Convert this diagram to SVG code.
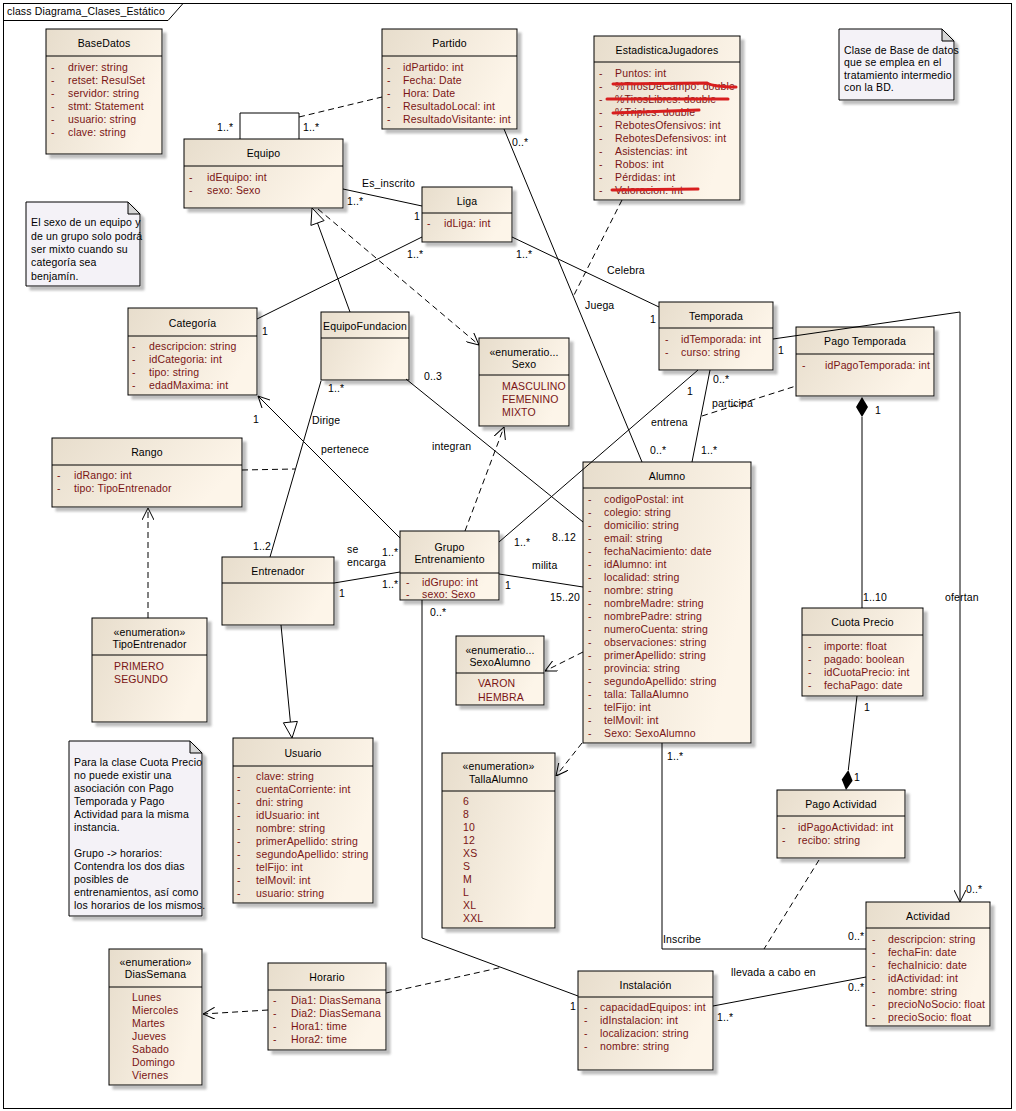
<svg xmlns="http://www.w3.org/2000/svg" width="1016" height="1111" viewBox="0 0 1016 1111">
<defs>
<linearGradient id="g" x1="0" y1="0" x2="1" y2="0.35"><stop offset="0" stop-color="#e7ddcc"/><stop offset="1" stop-color="#fdf5e9"/></linearGradient>
<filter id="ds" x="-10%" y="-10%" width="130%" height="130%"><feDropShadow dx="4" dy="4" stdDeviation="1" flood-color="#8a8a8a" flood-opacity="0.55"/></filter>
<marker id="op" viewBox="0 0 12 12" refX="12" refY="6" markerWidth="12" markerHeight="12" markerUnits="userSpaceOnUse" orient="auto"><path d="M0,0 L12,6 L0,12" fill="none" stroke="#000" stroke-width="1"/></marker>
<style>
text{font-family:"Liberation Sans",Arial,sans-serif;font-size:10.5px;letter-spacing:0.15px}
.b{fill:url(#g);stroke:#000;stroke-width:1;filter:url(#ds)}
.dv{stroke:#000;stroke-width:1}
.h{text-anchor:middle;fill:#000}
.a{fill:#7a1414}
.l{fill:#000}
.n{fill:#f4f2f7;stroke:#000;stroke-width:1;filter:url(#ds)}
.f{fill:#d6d6d6;stroke:#000;stroke-width:1}
.c{fill:none;stroke:#000;stroke-width:1}
.d{fill:none;stroke:#000;stroke-width:1;stroke-dasharray:6 4}
.s{fill:none;stroke:#d81e1e;stroke-width:3;stroke-linecap:round}
</style>
</defs>
<rect x="0" y="0" width="1016" height="1111" fill="#fff"/>
<g id="frame">
<rect x="3.5" y="3.5" width="1008" height="1105" fill="none" stroke="#000"/>
<path d="M3.5,20.5 H168 L183,3.5" fill="none" stroke="#000"/>
<text x="7" y="15" class="l">class Diagrama_Clases_Estático</text>
</g>

<g id="BaseDatos">
<rect class="b" x="46" y="29" width="116" height="125"/><line class="dv" x1="46" y1="56" x2="162" y2="56"/>
<text class="h" x="104" y="47">BaseDatos</text>
<text class="a" x="51" y="70.5">-</text><text class="a" x="68" y="70.5">driver: string</text>
<text class="a" x="51" y="83.5">-</text><text class="a" x="68" y="83.5">retset: ResulSet</text>
<text class="a" x="51" y="96.5">-</text><text class="a" x="68" y="96.5">servidor: string</text>
<text class="a" x="51" y="109.5">-</text><text class="a" x="68" y="109.5">stmt: Statement</text>
<text class="a" x="51" y="122.5">-</text><text class="a" x="68" y="122.5">usuario: string</text>
<text class="a" x="51" y="135.5">-</text><text class="a" x="68" y="135.5">clave: string</text>
</g>

<g id="Partido">
<rect class="b" x="382" y="29" width="135" height="100"/><line class="dv" x1="382" y1="56" x2="517" y2="56"/>
<text class="h" x="449.5" y="47">Partido</text>
<text class="a" x="387" y="70.5">-</text><text class="a" x="403" y="70.5">idPartido: int</text>
<text class="a" x="387" y="83.5">-</text><text class="a" x="403" y="83.5">Fecha: Date</text>
<text class="a" x="387" y="96.5">-</text><text class="a" x="403" y="96.5">Hora: Date</text>
<text class="a" x="387" y="109.5">-</text><text class="a" x="403" y="109.5">ResultadoLocal: int</text>
<text class="a" x="387" y="122.5">-</text><text class="a" x="403" y="122.5">ResultadoVisitante: int</text>
</g>

<g id="EstadisticaJugadores">
<rect class="b" x="594" y="36" width="146" height="164"/><line class="dv" x1="594" y1="62" x2="740" y2="62"/>
<text class="h" x="667" y="53.5">EstadisticaJugadores</text>
<text class="a" x="599" y="76.5">-</text><text class="a" x="615" y="76.5">Puntos: int</text>
<text class="a" x="599" y="89.5">-</text><text class="a" x="615" y="89.5">%TirosDeCampo: double</text>
<text class="a" x="599" y="102.5">-</text><text class="a" x="615" y="102.5">%TirosLibres: double</text>
<text class="a" x="599" y="115.5">-</text><text class="a" x="615" y="115.5">%Triples: double</text>
<text class="a" x="599" y="128.5">-</text><text class="a" x="615" y="128.5">RebotesOfensivos: int</text>
<text class="a" x="599" y="141.5">-</text><text class="a" x="615" y="141.5">RebotesDefensivos: int</text>
<text class="a" x="599" y="154.5">-</text><text class="a" x="615" y="154.5">Asistencias: int</text>
<text class="a" x="599" y="167.5">-</text><text class="a" x="615" y="167.5">Robos: int</text>
<text class="a" x="599" y="180.5">-</text><text class="a" x="615" y="180.5">Pérdidas: int</text>
<text class="a" x="599" y="193.5">-</text><text class="a" x="615" y="193.5">Valoracion: int</text>
<path class="s" d="M613,84 L707,83 Q714,87 736,87"/>
<path class="s" d="M607,99 L728,99"/>
<path class="s" d="M613,113 L699,110"/>
<path class="s" d="M612,190 L698,189"/>
</g>

<g id="NotaBD">
<path class="n" d="M839,29 H942 L954,41 V100 H839 Z"/><path class="f" d="M942,29 V41 H954 Z"/>
<text class="l" x="844" y="53.5">Clase de Base de datos</text>
<text class="l" x="844" y="65.5">que se emplea en el</text>
<text class="l" x="844" y="78.5">tratamiento intermedio</text>
<text class="l" x="844" y="90.5">con la BD.</text>
</g>

<g id="Equipo">
<rect class="b" x="184" y="139" width="159" height="69"/><line class="dv" x1="184" y1="166" x2="343" y2="166"/>
<text class="h" x="263.5" y="157">Equipo</text>
<text class="a" x="189" y="180.5">-</text><text class="a" x="207" y="180.5">idEquipo: int</text>
<text class="a" x="189" y="193.5">-</text><text class="a" x="207" y="193.5">sexo: Sexo</text>
</g>

<g id="Liga">
<rect class="b" x="422" y="187" width="90" height="55"/><line class="dv" x1="422" y1="213" x2="512" y2="213"/>
<text class="h" x="467" y="204.5">Liga</text>
<text class="a" x="427" y="227">-</text><text class="a" x="444" y="227">idLiga: int</text>
</g>

<g id="NotaSexo">
<path class="n" d="M26,202 H128 L140,214 V286 H26 Z"/><path class="f" d="M128,202 V214 H140 Z"/>
<text class="l" x="31" y="225.5">El sexo de un equipo y</text>
<text class="l" x="31" y="239.5">de un grupo solo podrá</text>
<text class="l" x="31" y="252.5">ser mixto cuando su</text>
<text class="l" x="31" y="265.5">categoría sea</text>
<text class="l" x="31" y="279.5">benjamín.</text>
</g>

<g id="Categoria">
<rect class="b" x="128" y="308" width="129" height="87"/><line class="dv" x1="128" y1="336" x2="257" y2="336"/>
<text class="h" x="192.5" y="326.5">Categoría</text>
<text class="a" x="132" y="350">-</text><text class="a" x="149" y="350">descripcion: string</text>
<text class="a" x="132" y="363">-</text><text class="a" x="149" y="363">idCategoria: int</text>
<text class="a" x="132" y="376">-</text><text class="a" x="149" y="376">tipo: string</text>
<text class="a" x="132" y="389">-</text><text class="a" x="149" y="389">edadMaxima: int</text>
</g>

<g id="EquipoFundacion">
<rect class="b" x="321" y="312" width="88" height="68"/><line class="dv" x1="321" y1="338" x2="409" y2="338"/>
<text class="h" x="365" y="329.5">EquipoFundacion</text>
</g>

<g id="Temporada">
<rect class="b" x="659" y="302" width="114" height="68"/><line class="dv" x1="659" y1="328" x2="773" y2="328"/>
<text class="h" x="716" y="319.5">Temporada</text>
<text class="a" x="665" y="342.5">-</text><text class="a" x="681" y="342.5">idTemporada: int</text>
<text class="a" x="665" y="355.5">-</text><text class="a" x="681" y="355.5">curso: string</text>
</g>

<g id="PagoTemporada">
<rect class="b" x="796" y="327" width="138" height="69"/><line class="dv" x1="796" y1="354" x2="934" y2="354"/>
<text class="h" x="865" y="345">Pago Temporada</text>
<text class="a" x="802" y="368.5">-</text><text class="a" x="825" y="368.5">idPagoTemporada: int</text>
</g>

<g id="Sexo">
<rect class="b" x="479" y="338" width="90" height="88"/><line class="dv" x1="479" y1="375" x2="569" y2="375"/>
<text class="h" x="524" y="355.5">«enumeratio...</text>
<text class="h" x="524" y="367.5">Sexo</text>
<text class="a" x="502" y="389.5">MASCULINO</text>
<text class="a" x="502" y="402.5">FEMENINO</text>
<text class="a" x="502" y="415.5">MIXTO</text>
</g>

<g id="Rango">
<rect class="b" x="52" y="438" width="190" height="69"/><line class="dv" x1="52" y1="465" x2="242" y2="465"/>
<text class="h" x="147" y="456">Rango</text>
<text class="a" x="57" y="479">-</text><text class="a" x="74" y="479">idRango: int</text>
<text class="a" x="57" y="492">-</text><text class="a" x="74" y="492">tipo: TipoEntrenador</text>
</g>

<g id="Alumno">
<rect class="b" x="583" y="462" width="168" height="281"/><line class="dv" x1="583" y1="488" x2="751" y2="488"/>
<text class="h" x="667" y="479.5">Alumno</text>
<text class="a" x="588" y="502.5">-</text><text class="a" x="604" y="502.5">codigoPostal: int</text>
<text class="a" x="588" y="515.5">-</text><text class="a" x="604" y="515.5">colegio: string</text>
<text class="a" x="588" y="528.5">-</text><text class="a" x="604" y="528.5">domicilio: string</text>
<text class="a" x="588" y="541.5">-</text><text class="a" x="604" y="541.5">email: string</text>
<text class="a" x="588" y="554.5">-</text><text class="a" x="604" y="554.5">fechaNacimiento: date</text>
<text class="a" x="588" y="567.5">-</text><text class="a" x="604" y="567.5">idAlumno: int</text>
<text class="a" x="588" y="580.5">-</text><text class="a" x="604" y="580.5">localidad: string</text>
<text class="a" x="588" y="593.5">-</text><text class="a" x="604" y="593.5">nombre: string</text>
<text class="a" x="588" y="606.5">-</text><text class="a" x="604" y="606.5">nombreMadre: string</text>
<text class="a" x="588" y="619.5">-</text><text class="a" x="604" y="619.5">nombrePadre: string</text>
<text class="a" x="588" y="632.5">-</text><text class="a" x="604" y="632.5">numeroCuenta: string</text>
<text class="a" x="588" y="645.5">-</text><text class="a" x="604" y="645.5">observaciones: string</text>
<text class="a" x="588" y="658.5">-</text><text class="a" x="604" y="658.5">primerApellido: string</text>
<text class="a" x="588" y="671.5">-</text><text class="a" x="604" y="671.5">provincia: string</text>
<text class="a" x="588" y="684.5">-</text><text class="a" x="604" y="684.5">segundoApellido: string</text>
<text class="a" x="588" y="697.5">-</text><text class="a" x="604" y="697.5">talla: TallaAlumno</text>
<text class="a" x="588" y="710.5">-</text><text class="a" x="604" y="710.5">telFijo: int</text>
<text class="a" x="588" y="723.5">-</text><text class="a" x="604" y="723.5">telMovil: int</text>
<text class="a" x="588" y="736.5">-</text><text class="a" x="604" y="736.5">Sexo: SexoAlumno</text>
</g>

<g id="GrupoEntrenamiento">
<rect class="b" x="400" y="531" width="99" height="69"/><line class="dv" x1="400" y1="573" x2="499" y2="573"/>
<text class="h" x="449.5" y="550.5">Grupo</text>
<text class="h" x="449.5" y="562.5">Entrenamiento</text>
<text class="a" x="406" y="585.5">-</text><text class="a" x="422" y="585.5">idGrupo: int</text>
<text class="a" x="406" y="597.5">-</text><text class="a" x="422" y="597.5">sexo: Sexo</text>
</g>

<g id="Entrenador">
<rect class="b" x="222" y="557" width="112" height="68"/><line class="dv" x1="222" y1="583" x2="334" y2="583"/>
<text class="h" x="278" y="574.5">Entrenador</text>
</g>

<g id="TipoEntrenador">
<rect class="b" x="92" y="618" width="115" height="104"/><line class="dv" x1="92" y1="655" x2="207" y2="655"/>
<text class="h" x="149.5" y="635.5">«enumeration»</text>
<text class="h" x="149.5" y="647.5">TipoEntrenador</text>
<text class="a" x="114" y="669.5">PRIMERO</text>
<text class="a" x="114" y="682.5">SEGUNDO</text>
</g>

<g id="SexoAlumno">
<rect class="b" x="456" y="636" width="88" height="69"/><line class="dv" x1="456" y1="673" x2="544" y2="673"/>
<text class="h" x="500" y="653.5">«enumeratio...</text>
<text class="h" x="500" y="665.5">SexoAlumno</text>
<text class="a" x="478" y="686.5">VARON</text>
<text class="a" x="478" y="700.5">HEMBRA</text>
</g>

<g id="CuotaPrecio">
<rect class="b" x="802" y="608" width="121" height="88"/><line class="dv" x1="802" y1="635" x2="923" y2="635"/>
<text class="h" x="862.5" y="626">Cuota Precio</text>
<text class="a" x="808" y="649.5">-</text><text class="a" x="824" y="649.5">importe: float</text>
<text class="a" x="808" y="662.5">-</text><text class="a" x="824" y="662.5">pagado: boolean</text>
<text class="a" x="808" y="675.5">-</text><text class="a" x="824" y="675.5">idCuotaPrecio: int</text>
<text class="a" x="808" y="688.5">-</text><text class="a" x="824" y="688.5">fechaPago: date</text>
</g>

<g id="Usuario">
<rect class="b" x="233" y="738" width="140" height="165"/><line class="dv" x1="233" y1="766" x2="373" y2="766"/>
<text class="h" x="303" y="756.5">Usuario</text>
<text class="a" x="237" y="779.5">-</text><text class="a" x="256" y="779.5">clave: string</text>
<text class="a" x="237" y="792.5">-</text><text class="a" x="256" y="792.5">cuentaCorriente: int</text>
<text class="a" x="237" y="805.5">-</text><text class="a" x="256" y="805.5">dni: string</text>
<text class="a" x="237" y="818.5">-</text><text class="a" x="256" y="818.5">idUsuario: int</text>
<text class="a" x="237" y="831.5">-</text><text class="a" x="256" y="831.5">nombre: string</text>
<text class="a" x="237" y="844.5">-</text><text class="a" x="256" y="844.5">primerApellido: string</text>
<text class="a" x="237" y="857.5">-</text><text class="a" x="256" y="857.5">segundoApellido: string</text>
<text class="a" x="237" y="870.5">-</text><text class="a" x="256" y="870.5">telFijo: int</text>
<text class="a" x="237" y="883.5">-</text><text class="a" x="256" y="883.5">telMovil: int</text>
<text class="a" x="237" y="896.5">-</text><text class="a" x="256" y="896.5">usuario: string</text>
</g>

<g id="NotaCuota">
<path class="n" d="M69,741 H190 L202,753 V916 H69 Z"/><path class="f" d="M190,741 V753 H202 Z"/>
<text class="l" x="74" y="765.5">Para la clase Cuota Precio</text>
<text class="l" x="74" y="778.5">no puede existir una</text>
<text class="l" x="74" y="791.5">asociación con Pago</text>
<text class="l" x="74" y="804.5">Temporada y Pago</text>
<text class="l" x="74" y="817.5">Actividad para la misma</text>
<text class="l" x="74" y="830.5">instancia.</text>
<text class="l" x="74" y="856.5">Grupo -&gt; horarios:</text>
<text class="l" x="74" y="869.5">Contendra los dos dias</text>
<text class="l" x="74" y="882.5">posibles de</text>
<text class="l" x="74" y="895.5">entrenamientos, así como</text>
<text class="l" x="74" y="908.5">los horarios de los mismos.</text>
</g>

<g id="TallaAlumno">
<rect class="b" x="442" y="753" width="113" height="175"/><line class="dv" x1="442" y1="791" x2="555" y2="791"/>
<text class="h" x="498.5" y="769.5">«enumeration»</text>
<text class="h" x="498.5" y="782.5">TallaAlumno</text>
<text class="a" x="463" y="804.5">6</text>
<text class="a" x="463" y="817.5">8</text>
<text class="a" x="463" y="830.5">10</text>
<text class="a" x="463" y="843.5">12</text>
<text class="a" x="463" y="856.5">XS</text>
<text class="a" x="463" y="869.5">S</text>
<text class="a" x="463" y="882.5">M</text>
<text class="a" x="463" y="895.5">L</text>
<text class="a" x="463" y="908.5">XL</text>
<text class="a" x="463" y="921.5">XXL</text>
</g>

<g id="PagoActividad">
<rect class="b" x="777" y="790" width="128" height="68"/><line class="dv" x1="777" y1="816" x2="905" y2="816"/>
<text class="h" x="841" y="807.5">Pago Actividad</text>
<text class="a" x="782" y="830.5">-</text><text class="a" x="798" y="830.5">idPagoActividad: int</text>
<text class="a" x="782" y="843.5">-</text><text class="a" x="798" y="843.5">recibo: string</text>
</g>

<g id="Actividad">
<rect class="b" x="866" y="902" width="124" height="124"/><line class="dv" x1="866" y1="928" x2="990" y2="928"/>
<text class="h" x="928" y="919.5">Actividad</text>
<text class="a" x="872" y="942.5">-</text><text class="a" x="888" y="942.5">descripcion: string</text>
<text class="a" x="872" y="955.5">-</text><text class="a" x="888" y="955.5">fechaFin: date</text>
<text class="a" x="872" y="968.5">-</text><text class="a" x="888" y="968.5">fechaInicio: date</text>
<text class="a" x="872" y="981.5">-</text><text class="a" x="888" y="981.5">idActividad: int</text>
<text class="a" x="872" y="994.5">-</text><text class="a" x="888" y="994.5">nombre: string</text>
<text class="a" x="872" y="1007.5">-</text><text class="a" x="888" y="1007.5">precioNoSocio: float</text>
<text class="a" x="872" y="1020.5">-</text><text class="a" x="888" y="1020.5">precioSocio: float</text>
</g>

<g id="DiasSemana">
<rect class="b" x="109" y="949" width="93" height="136"/><line class="dv" x1="109" y1="987" x2="202" y2="987"/>
<text class="h" x="155.5" y="965.5">«enumeration»</text>
<text class="h" x="155.5" y="977.5">DiasSemana</text>
<text class="a" x="132" y="1000.5">Lunes</text>
<text class="a" x="132" y="1013.5">Miercoles</text>
<text class="a" x="132" y="1026.5">Martes</text>
<text class="a" x="132" y="1039.5">Jueves</text>
<text class="a" x="132" y="1052.5">Sabado</text>
<text class="a" x="132" y="1065.5">Domingo</text>
<text class="a" x="132" y="1078.5">Viernes</text>
</g>

<g id="Horario">
<rect class="b" x="268" y="963" width="118" height="87"/><line class="dv" x1="268" y1="990" x2="386" y2="990"/>
<text class="h" x="327" y="981">Horario</text>
<text class="a" x="273" y="1003.5">-</text><text class="a" x="291" y="1003.5">Dia1: DiasSemana</text>
<text class="a" x="273" y="1016.5">-</text><text class="a" x="291" y="1016.5">Dia2: DiasSemana</text>
<text class="a" x="273" y="1029.5">-</text><text class="a" x="291" y="1029.5">Hora1: time</text>
<text class="a" x="273" y="1042.5">-</text><text class="a" x="291" y="1042.5">Hora2: time</text>
</g>

<g id="Instalacion">
<rect class="b" x="578" y="971" width="135" height="99"/><line class="dv" x1="578" y1="997" x2="713" y2="997"/>
<text class="h" x="645.5" y="988.5">Instalación</text>
<text class="a" x="584" y="1010.5">-</text><text class="a" x="600" y="1010.5">capacidadEquipos: int</text>
<text class="a" x="584" y="1023.5">-</text><text class="a" x="600" y="1023.5">idInstalacion: int</text>
<text class="a" x="584" y="1036.5">-</text><text class="a" x="600" y="1036.5">localizacion: string</text>
<text class="a" x="584" y="1049.5">-</text><text class="a" x="600" y="1049.5">nombre: string</text>
</g>

<g id="connectors">
<polyline class="c" points="240,139 240,113 299,113 299,139"/>
<text class="l" x="217" y="131">1..*</text><text class="l" x="303" y="131">1..*</text>
<line class="d" x1="299" y1="117" x2="382" y2="97"/>

<line class="c" x1="343" y1="189" x2="422" y2="206"/>
<text class="l" x="362" y="187">Es_inscrito</text><text class="l" x="347" y="205">1..*</text><text class="l" x="414" y="220">1</text>

<line class="c" x1="422" y1="237" x2="257" y2="319"/>
<text class="l" x="407" y="258">1..*</text><text class="l" x="262" y="335">1</text>

<line class="c" x1="512" y1="237" x2="659" y2="307"/>
<text class="l" x="516" y="258">1..*</text><text class="l" x="607" y="274">Celebra</text><text class="l" x="650" y="323">1</text>

<line class="c" x1="504" y1="129" x2="642" y2="462"/>
<text class="l" x="512" y="146">0..*</text><text class="l" x="585" y="309">Juega</text><text class="l" x="650" y="454">0..*</text>

<line class="d" x1="622" y1="200" x2="573" y2="297"/>

<line class="c" x1="350" y1="312" x2="317.5" y2="223"/>
<polygon points="312,208 324.1,220.6 310.9,225.4" fill="#fff" stroke="#000"/>

<line class="d" x1="318" y1="209" x2="479" y2="345" marker-end="url(#op)"/>

<line class="c" x1="321" y1="381" x2="270" y2="557"/>
<text class="l" x="328" y="392">1..*</text><text class="l" x="312" y="424">Dirige</text><text class="l" x="253" y="550">1..2</text>
<line class="d" x1="242" y1="470" x2="295" y2="469"/>

<line class="d" x1="148" y1="618" x2="148" y2="508" marker-end="url(#op)"/>

<line class="c" x1="400" y1="538" x2="258" y2="396" marker-end="url(#op)"/>
<text class="l" x="253" y="423">1</text><text class="l" x="321" y="453">pertenece</text><text class="l" x="382" y="556">1..*</text>

<line class="d" x1="465" y1="531" x2="504" y2="427" marker-end="url(#op)"/>

<line class="c" x1="406" y1="379" x2="583" y2="522"/>
<text class="l" x="424" y="380">0..3</text><text class="l" x="432" y="450">integran</text><text class="l" x="552" y="541">8..12</text>

<line class="c" x1="698" y1="370" x2="499" y2="542"/>
<text class="l" x="687" y="395">1</text><text class="l" x="651" y="426">entrena</text><text class="l" x="514" y="546">1..*</text>

<line class="c" x1="710" y1="370" x2="692" y2="462"/>
<text class="l" x="713" y="383">0..*</text><text class="l" x="701" y="454">1..*</text>
<line class="d" x1="702" y1="416" x2="796" y2="386"/>
<text class="l" x="712" y="407">participa</text>

<polyline class="c" points="773,339 960,312 960,902" marker-end="url(#op)"/>
<text class="l" x="778" y="354">1</text><text class="l" x="945" y="601">ofertan</text><text class="l" x="966" y="893">0..*</text>

<line class="c" x1="862" y1="417" x2="862" y2="608"/>
<polygon points="862,397 868,407 862,417 856,407" fill="#000"/>
<text class="l" x="875" y="414">1</text><text class="l" x="863" y="601">1..10</text>

<line class="c" x1="857" y1="696" x2="848.3" y2="770"/>
<polygon points="846,790 852.6,780.7 848.3,770 841.7,779.5" fill="#000"/>
<text class="l" x="864" y="711">1</text><text class="l" x="854" y="781">1</text>

<line class="d" x1="819" y1="860" x2="764" y2="949"/>

<line class="c" x1="499" y1="574" x2="583" y2="587"/>
<text class="l" x="532" y="569">milita</text><text class="l" x="505" y="589">1</text><text class="l" x="550" y="601">15..20</text>

<line class="c" x1="334" y1="583" x2="400" y2="572"/>
<text class="l" x="347" y="553">se</text><text class="l" x="347" y="566">encarga</text><text class="l" x="382" y="588">1..*</text><text class="l" x="339" y="597">1</text>

<line class="c" x1="281" y1="625" x2="290.4" y2="722"/>
<polygon points="292,738 297.4,721.4 283.4,722.8" fill="#fff" stroke="#000"/>

<line class="d" x1="583" y1="652" x2="545" y2="671" marker-end="url(#op)"/>
<line class="d" x1="582" y1="743" x2="556" y2="776" marker-end="url(#op)"/>

<polyline class="c" points="422,600 422,938 578,996"/>
<text class="l" x="430" y="616">0..*</text><text class="l" x="570" y="1010">1</text>
<line class="d" x1="386" y1="993" x2="503" y2="967"/>
<line class="d" x1="268" y1="1010" x2="203" y2="1014" marker-end="url(#op)"/>

<polyline class="c" points="662,743 662,949 866,949"/>
<text class="l" x="667" y="760">1..*</text><text class="l" x="663" y="943">Inscribe</text><text class="l" x="848" y="940">0..*</text>

<line class="c" x1="713" y1="1006" x2="866" y2="977"/>
<text class="l" x="731" y="976">llevada a cabo en</text><text class="l" x="848" y="991">0..*</text><text class="l" x="717" y="1021">1..*</text>
</g>
</svg>
